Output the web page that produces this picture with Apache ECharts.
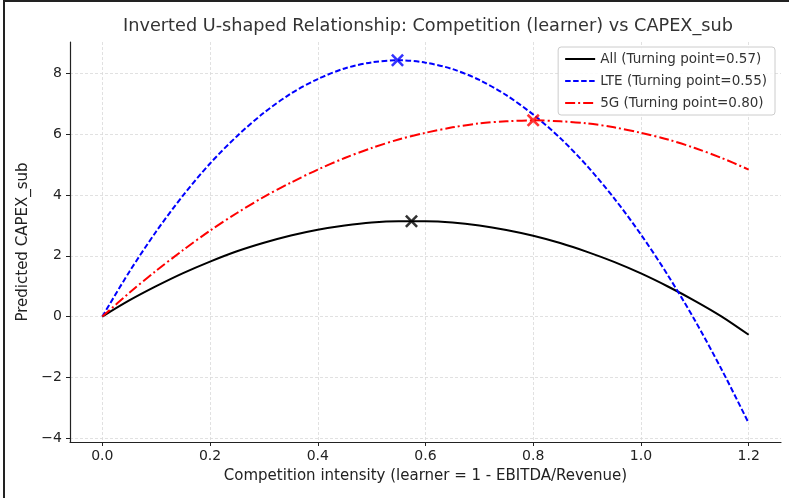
<!DOCTYPE html>
<html>
<head>
<meta charset="utf-8">
<script src="https://cdn.jsdelivr.net/npm/echarts@6/dist/echarts.min.js"></script>
<style>html,body{margin:0;padding:0;background:#fff;}#c{width:789px;height:498px;}</style>
</head>
<body>
<div id="c"></div>
<script>
const xs = [0, 0.05, 0.1, 0.15, 0.2, 0.25, 0.3, 0.35, 0.4, 0.45, 0.5, 0.55, 0.6, 0.65, 0.7, 0.75, 0.8, 0.85, 0.9, 0.95, 1.0, 1.05, 1.1, 1.15, 1.2];
const yAll = [0, 0.53, 1.00, 1.43, 1.81, 2.15, 2.43, 2.67, 2.86, 3.00, 3.10, 3.14, 3.14, 3.10, 3.00, 2.85, 2.66, 2.42, 2.13, 1.80, 1.42, 0.99, 0.52, 0.00, -0.60];
const yLTE = [0, 1.47, 2.80, 3.99, 5.04, 5.94, 6.71, 7.34, 7.82, 8.17, 8.37, 8.44, 8.36, 8.15, 7.79, 7.29, 6.65, 5.88, 4.96, 3.90, 2.70, 1.36, -0.12, -1.75, -3.51];
const y5G = [0, 0.78, 1.51, 2.19, 2.83, 3.41, 3.94, 4.41, 4.84, 5.22, 5.55, 5.83, 6.05, 6.23, 6.36, 6.43, 6.46, 6.43, 6.36, 6.23, 6.05, 5.83, 5.55, 5.22, 4.84];
const seriesNames = ['All (Turning point=0.57)', 'LTE (Turning point=0.55)', '5G (Turning point=0.80)'];
const turnX = [0.574, 0.548, 0.80];
const turnY = [3.14, 8.44, 6.46];
const xTicks = [0, 0.2, 0.4, 0.6, 0.8, 1.0, 1.2];
const yTicks = [-4, -2, 0, 2, 4, 6, 8];
const titleText = 'Inverted U-shaped Relationship: Competition (learner) vs CAPEX_sub';
const xLabel = 'Competition intensity (learner = 1 - EBITDA/Revenue)';
const yLabel = 'Predicted CAPEX_sub';

const colors = ['#000000', '#0000ff', '#ff0000'];
const dashes = ['solid', [5.5, 2.5], [10, 3, 2, 3]];
const ys = [yAll, yLTE, y5G];
const font = 'DejaVu Sans';
const xMark = 'path://M0,1.4L1.4,0L5,3.6L8.6,0L10,1.4L6.4,5L10,8.6L8.6,10L5,6.4L1.4,10L0,8.6L3.6,5Z';

const series = ys.map((arr, i) => ({
  name: seriesNames[i],
  type: 'line',
  data: xs.map((x, j) => [x, arr[j]]),
  smooth: 0.3,
  symbol: 'none',
  showSymbol: false,
  lineStyle: { color: colors[i], width: 2, type: dashes[i] },
  itemStyle: { color: colors[i] },
  z: 3
}));
turnX.forEach((x, i) => {
  series.push({
    name: 'tp' + i,
    type: 'scatter',
    data: [[x, turnY[i]]],
    symbol: xMark,
    symbolSize: 13,
    itemStyle: { color: colors[i] },
    z: 5,
    silent: true
  });
});

const chart = echarts.init(document.getElementById('c'), null, { renderer: 'canvas' });
chart.setOption({
  animation: false,
  backgroundColor: '#ffffff',
  textStyle: { fontFamily: font },
  title: {
    text: titleText,
    left: 423, top: 12, textAlign: 'center',
    textStyle: { fontFamily: font, fontSize: 17.7, fontWeight: 'normal', color: '#333' }
  },
  legend: {
    data: seriesNames,
    orient: 'vertical',
    right: 14, top: 47,
    itemWidth: 30, itemHeight: 12, itemGap: 8,
    padding: [5, 8, 5, 6],
    itemStyle: { opacity: 0 },
    borderColor: '#cccccc', borderWidth: 1, borderRadius: 3,
    backgroundColor: 'rgba(255,255,255,0.85)',
    textStyle: { fontFamily: font, fontSize: 13.5, color: '#333' }
  },
  grid: { left: 70, right: 8, top: 42, bottom: 56, containLabel: false },
  xAxis: {
    type: 'value', min: -0.06, max: 1.26,
    name: xLabel, nameLocation: 'middle', nameGap: 27,
    nameTextStyle: { fontFamily: font, fontSize: 15, color: '#222' },
    axisLine: { show: true, onZero: false, lineStyle: { color: '#222', width: 1.2 } },
    axisTick: { show: true, length: 4, customValues: xTicks, lineStyle: { color: '#222' } },
    axisLabel: { customValues: xTicks, fontFamily: font, fontSize: 14, color: '#222', margin: 7, formatter: v => Number(v).toFixed(1) },
    splitLine: { show: true, lineStyle: { color: '#d9d9d9', width: 0.8, type: [3, 2] } }
  },
  yAxis: {
    type: 'value', min: -4.13, max: 9.04,
    name: yLabel, nameLocation: 'middle', nameGap: 34,
    nameTextStyle: { fontFamily: font, fontSize: 15, color: '#222' },
    axisLine: { show: true, onZero: false, lineStyle: { color: '#222', width: 1.2 } },
    axisTick: { show: true, length: 4, customValues: yTicks, lineStyle: { color: '#222' } },
    axisLabel: { customValues: yTicks, fontFamily: font, fontSize: 14, color: '#222', margin: 8, formatter: v => String(Math.round(v)).replace('-', '\u2212') },
    splitLine: { show: true, lineStyle: { color: '#d9d9d9', width: 0.8, type: [3, 2] } }
  },
  graphic: [
    { type: 'rect', shape: { x: 3, y: 0, width: 2, height: 498 }, style: { fill: '#222' }, silent: true },
    { type: 'rect', shape: { x: 3, y: 0, width: 786, height: 2 }, style: { fill: '#222' }, silent: true }
  ],
  series: series
});
</script>
</body>
</html>
